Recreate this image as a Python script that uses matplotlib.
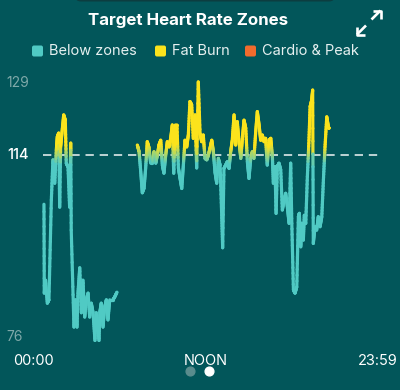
import numpy as np
import matplotlib
matplotlib.use("Agg")
import matplotlib.pyplot as plt
import matplotlib.transforms as mtransforms
from matplotlib.collections import LineCollection
from matplotlib.patches import FancyBboxPatch
from matplotlib.lines import Line2D
from matplotlib.colors import to_rgb

# ---------------- COLOURS ----------------
BG = '#02565a'
TEAL = '#50cac4'
YELLOW = '#fbe31c'
ORANGE = '#f26b2d'
GREY_TXT = '#7fa9a9'
# -----------------------------------------

# early morning stretch (hour of day, bpm)
hours_a = [1.93, 1.95, 2.03, 2.14, 2.24, 2.39, 2.49, 2.60, 2.70, 2.76,
           2.85, 2.91, 2.97, 3.05, 3.16, 3.26, 3.32, 3.43, 3.53, 3.60,
           3.63, 3.80, 3.88, 3.99, 4.05, 4.16, 4.26, 4.36, 4.47, 4.57,
           4.68, 4.78, 4.88, 4.99, 5.11, 5.19, 5.36, 5.41, 5.50, 5.61,
           5.72, 5.82, 5.92, 6.03, 6.13, 6.23, 6.34, 6.48]
bpm_a = [103.7, 85.1, 87.8, 83.0, 83.7, 104.6, 113.0, 108.1, 115.0, 117.8,
         118.6, 103.1, 115.7, 118.6, 122.4, 121.3, 112.3, 111.5, 103.1, 116.5,
         98.3, 78.0, 83.7, 78.0, 85.1, 90.4, 81.0, 87.8, 80.1, 83.7,
         85.1, 80.1, 83.0, 81.0, 75.2, 81.0, 75.2, 81.0, 83.0, 78.0,
         82.2, 83.7, 79.5, 83.7, 83.7, 83.7, 84.3, 85.3]

# rest of the day
hours_b = [7.75, 7.86, 7.98, 8.06, 8.17, 8.27, 8.37, 8.48, 8.58, 8.68,
           8.79, 8.90, 9.00, 9.10, 9.21, 9.31, 9.41, 9.52, 9.62, 9.73,
           9.83, 9.93, 10.02, 10.12, 10.22, 10.31, 10.41, 10.52, 10.62, 10.72,
           10.83, 10.93, 11.03, 11.14, 11.24, 11.35, 11.45, 11.55, 11.66, 11.76,
           11.86, 11.97, 12.08, 12.18, 12.28, 12.39, 12.49, 12.59, 12.70, 12.80,
           12.91, 13.01, 13.07, 13.15, 13.26, 13.36, 13.47, 13.57, 13.67, 13.78,
           13.88, 13.98, 14.09, 14.20, 14.30, 14.40, 14.51, 14.61, 14.71, 14.82,
           14.92, 15.02, 15.13, 15.23, 15.34, 15.44, 15.54, 15.65, 15.75, 15.85,
           15.96, 16.07, 16.17, 16.23, 16.33, 16.40, 16.48, 16.58, 16.69, 16.79,
           16.90, 17.00, 17.10, 17.21, 17.31, 17.38, 17.48, 17.58, 17.69, 17.79,
           17.85, 17.94, 18.00, 18.10, 18.16, 18.25, 18.35, 18.45, 18.52, 18.62,
           18.68, 18.72, 18.83, 18.93, 19.03, 19.14, 19.25, 19.35, 19.45, 19.56,
           19.66, 19.70]
bpm_b = [116.1, 114.7, 109.8, 106.1, 107.1, 111.3, 116.8, 115.5, 112.3, 112.3,
         114.7, 112.3, 114.0, 116.1, 117.1, 111.9, 110.2, 114.0, 116.8, 115.7,
         117.5, 120.3, 110.2, 120.3, 120.3, 111.3, 109.2, 107.0, 111.9, 117.1,
         115.7, 118.2, 125.2, 124.5, 117.5, 122.4, 111.3, 129.3, 118.5, 116.8,
         118.2, 113.3, 113.0, 114.0, 115.4, 117.1, 114.7, 110.5, 108.1, 113.3,
         111.9, 101.4, 94.6, 111.2, 111.9, 112.6, 111.2, 114.7, 117.1, 122.4,
         116.1, 121.0, 116.8, 113.3, 117.5, 121.3, 119.6, 112.6, 109.1, 113.3,
         114.7, 113.3, 118.9, 123.1, 120.3, 117.1, 118.2, 116.8, 117.5, 111.9,
         117.1, 117.5, 113.6, 108.1, 111.6, 101.8, 111.6, 112.3, 110.9, 102.5,
         104.6, 106.0, 103.2, 99.7, 112.3, 99.7, 85.8, 85.1, 86.4, 101.1,
         101.8, 94.8, 99.7, 96.2, 101.4, 99.7, 109.5, 117.1, 124.1, 125.5,
         127.6, 95.5, 99.0, 98.3, 101.1, 99.0, 101.1, 108.8, 115.7, 122.0,
         119.9, 119.6]

ZONE_BPM = 114
y_tick_vals = [129, 114, 76]
x_tick_pos = [0, 12, 24]
x_tick_labels = ['00:00', 'NOON', '23:59']
legend_labels = ['Below zones', 'Fat Burn', 'Cardio & Peak']
legend_colors = [TEAL, YELLOW, ORANGE]

plt.rcParams['font.family'] = ['Inter', 'DejaVu Sans']

fig = plt.figure(figsize=(4.0, 3.9), dpi=100, facecolor=BG)
# pixel coords from the top-left corner, used for the header decorations
px = mtransforms.Affine2D().scale(1 / 400, -1 / 390).translate(0, 1) + fig.transFigure

ax = fig.add_axes([13 / 400, 40 / 390, 385 / 400, 280 / 390])
ax.set_facecolor(BG)
ax.set_xlim(0, 24)
ax.set_ylim(73.2, 131.8)
ax.axis('off')

teal_rgb = np.array(to_rgb(TEAL))
yellow_rgb = np.array(to_rgb(YELLOW))


def zone_line(h, b):
    # cut every step into short pieces so the colour fades teal -> yellow at the zone line
    h = np.asarray(h, float)
    b = np.asarray(b, float)
    segs, cols = [], []
    t = np.linspace(0, 1, 13)
    for i in range(len(h) - 1):
        xs = h[i] + (h[i + 1] - h[i]) * t
        ys = b[i] + (b[i + 1] - b[i]) * t
        for j in range(len(t) - 1):
            ym = 0.5 * (ys[j] + ys[j + 1])
            w = np.clip((ym - 112.4) / 3.6, 0, 1)
            segs.append([(xs[j], ys[j]), (xs[j + 1], ys[j + 1])])
            cols.append(teal_rgb * (1 - w) + yellow_rgb * w)
    lc = LineCollection(segs, colors=cols, linewidths=2.3, capstyle='round')
    ax.add_collection(lc)


ax.hlines(ZONE_BPM, 1.87, 22.88, colors='#dfe9e9', linestyles=(0, (5, 3.5)), linewidth=1.2, zorder=1)
zone_line(hours_a, bpm_a)
zone_line(hours_b, bpm_b)

# y labels
for v in y_tick_vals:
    is_zone = v == ZONE_BPM
    ax.text(-0.016, v, str(v), transform=ax.get_yaxis_transform(), ha='left', va='center',
            color='white' if is_zone else GREY_TXT, fontsize=10.5 if is_zone else 10,
            fontweight='medium' if is_zone else 'normal', clip_on=False)

# x labels
xt = mtransforms.blended_transform_factory(ax.transData, fig.transFigure)
for pos, lab, ha in zip(x_tick_pos, x_tick_labels, ['left', 'center', 'right']):
    ax.text(pos, 1 - 361 / 390, lab, transform=xt, ha=ha, va='center', color='white', fontsize=10.5)

# page dots under NOON
fig.add_artist(Line2D([190], [371], transform=px, marker='o', markersize=6.3, color='#5a8c8d', lw=0))
fig.add_artist(Line2D([209], [371], transform=px, marker='o', markersize=6.3, color='white', lw=0))

# top bar peeking in
fig.add_artist(FancyBboxPatch((75, -12), 260, 13.5, boxstyle='round,pad=0,rounding_size=6',
                              transform=px, facecolor='#0c3d40', edgecolor='none'))

# title
fig.text(188, 21, 'Target Heart Rate Zones', transform=px, ha='center', va='center',
         color='white', fontsize=12.2, fontweight='bold')

# legend
legend_x = [32, 155, 245]
for x0, lab, col in zip(legend_x, legend_labels, legend_colors):
    fig.add_artist(FancyBboxPatch((x0, 45.5), 11, 11, boxstyle='round,pad=0,rounding_size=2',
                                  transform=px, facecolor=col, edgecolor='none'))
    fig.text(x0 + 17, 51, lab, transform=px, ha='left', va='center', color='#e6f0f0', fontsize=10.5)

# expand icon
icon_kw = dict(transform=px, color='white', lw=1.9, solid_capstyle='butt')
fig.add_artist(Line2D([371.5, 380.5], [19.5, 10.5], **icon_kw))
fig.add_artist(Line2D([373, 380.5, 380.5], [10.5, 10.5, 18.5], **icon_kw))
fig.add_artist(Line2D([366, 357], [25.5, 34.5], **icon_kw))
fig.add_artist(Line2D([357, 357, 365], [27, 34.5, 34.5], **icon_kw))

fig.savefig('out.png', dpi=100, facecolor=BG)
